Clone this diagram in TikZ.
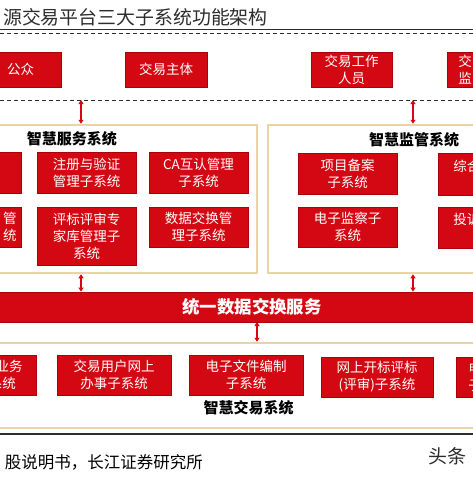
\documentclass[tikz,border=0pt]{standalone}
\usepackage{fontspec}
\setmainfont{Noto Sans CJK SC}
\usetikzlibrary{arrows.meta, positioning}
\definecolor{boxred}{RGB}{212,8,18}
\definecolor{boxedge}{RGB}{170,0,10}
\definecolor{frametan}{RGB}{233,212,168}
\definecolor{inkgray}{RGB}{45,45,45}

\begin{document}
\begin{tikzpicture}[x=1pt, y=-1pt,
      subsys/.style={draw=boxedge, fill=boxred, line width=0.8pt, text=white, font=\fontsize{13.5}{17}\selectfont, align=center, inner sep=0pt, minimum width=99, minimum height=41},
      cutl/.style={subsys, align=right, inner xsep=#1, text width=80, minimum width=0, anchor=east},
      cutr/.style={subsys, align=left, inner xsep=#1, text width=80, minimum width=0, anchor=west},
      sysframe/.style={draw=frametan, line width=2.5pt, inner sep=0pt},
      grouptitle/.style={font=\bfseries\fontsize{15}{18}\selectfont, inner sep=0pt},
      bus/.style={draw=boxedge, fill=boxred, line width=0.8pt, text=white, font=\bfseries\fontsize{17.4}{20}\selectfont, inner sep=0pt, minimum width=540, minimum height=30},
      biarrow/.style={{Triangle[width=5pt,length=4pt]}-{Triangle[width=5pt,length=4pt]}, draw=boxred, line width=1.6pt}
    ]
    \useasboundingbox (0,0) rectangle (473,477);
    \clip (0,0) rectangle (473,477);
    \fill[white] (0,0) rectangle (473,477);

    % heading and rules
    \node[anchor=east, inner sep=0pt, text=inkgray, font=\fontsize{18.9}{20}\selectfont] (head) at (268,17) {源交易平台三大子系统功能架构};
    \draw[inkgray, line width=1.3pt] (0,29.5) -- (473,29.5);
    \draw[inkgray, line width=0.9pt, dash pattern=on 4pt off 3pt] (0,33.5) -- (473,33.5);
    \draw[inkgray, line width=0.9pt, dash pattern=on 4pt off 3pt] (0,100) -- (473,100);

    % users
    \node[subsys, minimum width=81, minimum height=35] (pub) at (20.5,69.5) {公众};
    \node[subsys, minimum width=82, minimum height=35] (party) at (166,69.5) {交易主体};
    \node[subsys, minimum width=81, minimum height=35] (staff) at (351.5,69.5) {交易工作\\人员};
    \node[cutr=11, minimum height=35] (regulator) at (447,69.5) {交\\监};

    % frames
    \node[sysframe, minimum width=280, minimum height=148] (svc) at (117,199) {};
    \node[sysframe, minimum width=230, minimum height=148] (mon) at (383,199) {};
    \node[sysframe, minimum width=520, minimum height=85] (trade) at (236,385.5) {};
    \node[bus] (bus) at (252,307) {统一数据交换服务};

    \node[grouptitle] (svcT) at (72,139) {智慧服务系统};
    \node[grouptitle] (monT) at (414,140) {智慧监管系统};
    \node[grouptitle] (tradeT) at (248.5,408) {智慧交易系统};

    % service subsystems
    \node[cutl=5, minimum height=41] (svcA) at (22,172.5) {};
    \node[subsys] (reg) at (86.5,172.5) {注册与验证\\管理子系统};
    \node[subsys] (ca) at (198.5,172.5) {CA互认管理\\子系统};
    \node[cutl=5, minimum height=40] (svcB) at (22,227) {管\\统};
    \node[subsys, minimum height=58] (expert) at (86.5,236) {评标评审专\\家库管理子\\系统};
    \node[subsys, minimum height=40] (data) at (198.5,227) {数据交换管\\理子系统};

    % supervision subsystems
    \node[subsys] (proj) at (347.5,173.5) {项目备案\\子系统};
    \node[subsys, minimum height=40] (watch) at (347.5,227) {电子监察子\\系统};
    \node[cutr=15, minimum height=42] (overall) at (438,174) {综合\\~};
    \node[cutr=15, minimum height=41] (complain) at (438,227.5) {投诉\\~};

    % trading subsystems
    \node[cutl=14, minimum height=40] (tradeA) at (37,375) {业务\\系统\rule{0.5em}{0pt}};
    \node[subsys, minimum width=114, minimum height=40] (online) at (114,375) {交易用户网上\\办事子系统};
    \node[subsys, minimum width=114, minimum height=40] (efile) at (246,375) {电子文件编制\\子系统};
    \node[subsys, minimum width=112, minimum height=40] (bid) at (377,377) {网上开标评标\\(评审)子系统};
    \node[cutr=12, minimum height=40] (tradeE) at (456,377) {电\\子};

    % links
    \coordinate (gapL) at (81,100);
    \coordinate (gapR) at (413,100);
    \coordinate (busdn) at (257,322);
    \draw[biarrow] (gapL) -- (gapL |- svc.north);
    \draw[biarrow] (gapR) -- (gapR |- mon.north);
    \draw[biarrow] (svc.south -| gapL) -- (bus.north -| gapL);
    \draw[biarrow] (mon.south -| gapR) -- (bus.north -| gapR);
    \draw[biarrow] (busdn) -- (busdn |- trade.north);

    % source line
    \draw[inkgray, line width=1.5pt] (0,434) -- (473,434);
    \node[anchor=east, inner sep=0pt, font=\fontsize{16.5}{18}\selectfont] (src) at (203,462) {股说明书，长江证券研究所};
    \node[inner sep=0pt, text=inkgray, font=\fontsize{19}{20}\selectfont] (wm) at (447,456) {头条};
  \end{tikzpicture}
\end{document}
